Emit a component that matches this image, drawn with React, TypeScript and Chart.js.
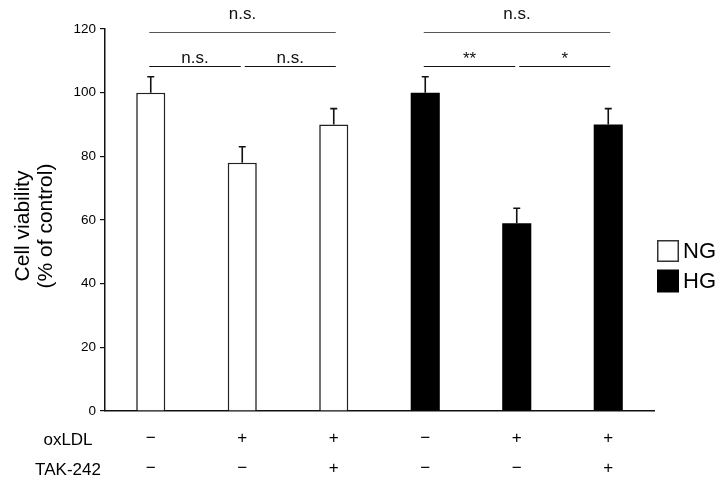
import React, { useEffect, useRef } from "react";
import { Chart, registerables } from "chart.js";

Chart.register(...registerables);

const categories = [
  "NG",
  "NG + oxLDL",
  "NG + oxLDL + TAK-242",
  "HG",
  "HG + oxLDL",
  "HG + oxLDL + TAK-242",
];
const rowNames = ["oxLDL", "TAK-242"];
const oxLDLRow = ["\u2212", "+", "+", "\u2212", "+", "+"];
const takRow = ["\u2212", "\u2212", "+", "\u2212", "\u2212", "+"];

const ngValues = [100, 78, 90, null, null, null];
const ngErrors = [5, 5, 5, null, null, null];
const hgValues = [null, null, null, 100, 59, 90];
const hgErrors = [null, null, null, 5, 4.7, 5];

const yTicks = [0, 20, 40, 60, 80, 100, 120];
const yTitle = ["Cell viability", "(% of control)"];

// significance brackets: category index pairs, label, level (value height)
const comparisons = [
  { from: 0, to: 1, label: "n.s.", level: 0 },
  { from: 1, to: 2, label: "n.s.", level: 0 },
  { from: 0, to: 2, label: "n.s.", level: 1 },
  { from: 3, to: 4, label: "**", level: 0 },
  { from: 4, to: 5, label: "*", level: 0 },
  { from: 3, to: 5, label: "n.s.", level: 1 },
];
const bracketLevels = [108.5, 119.1];

const FONT = "Arial, 'Liberation Sans', sans-serif";

const annotationPlugin = {
  id: "annotations",
  afterDatasetsDraw(chart: any) {
    const ctx = chart.ctx;
    const x = chart.scales.x;
    const y = chart.scales.y;
    const area = chart.chartArea;
    const errs = [ngErrors, hgErrors];

    ctx.save();
    // error bars
    chart.data.datasets.forEach((ds: any, di: number) => {
      const meta = chart.getDatasetMeta(di);
      meta.data.forEach((el: any, i: number) => {
        const v = ds.data[i];
        const e = errs[di][i];
        if (v == null || e == null) return;
        const top = y.getPixelForValue(v + e);
        ctx.strokeStyle = "#111";
        ctx.lineWidth = 1.6;
        ctx.beginPath();
        ctx.moveTo(el.x, el.y);
        ctx.lineTo(el.x, top);
        ctx.moveTo(el.x - 3.5, top);
        ctx.lineTo(el.x + 3.5, top);
        ctx.stroke();
      });
    });

    // brackets
    comparisons.forEach((c) => {
      const sharedFrom = comparisons.some(
        (o) => o !== c && o.level === c.level && o.to === c.from
      );
      const sharedTo = comparisons.some(
        (o) => o !== c && o.level === c.level && o.from === c.to
      );
      const x1 = x.getPixelForValue(c.from) + (sharedFrom ? 2.5 : -1.5);
      const x2 = x.getPixelForValue(c.to) + (sharedTo ? -1.5 : 2);
      const ly = Math.round(y.getPixelForValue(bracketLevels[c.level])) + 0.5;
      ctx.strokeStyle = c.level === 1 ? "#555" : "#111";
      ctx.lineWidth = 1.2;
      ctx.beginPath();
      ctx.moveTo(x1, ly);
      ctx.lineTo(x2, ly);
      ctx.stroke();
      ctx.fillStyle = "#111";
      ctx.font = `17px ${FONT}`;
      ctx.textAlign = "center";
      ctx.textBaseline = "alphabetic";
      const star = c.label.indexOf("*") >= 0;
      const off = c.level === 1 ? 14 : star ? 3 : 4;
      ctx.fillText(c.label, (x1 + x2) / 2, ly - off);
    });

    // y title
    ctx.fillStyle = "#000";
    ctx.font = `21px ${FONT}`;
    ctx.textAlign = "center";
    ctx.textBaseline = "alphabetic";
    const cy = (area.top + area.bottom) / 2 + 6;
    [29, 52].forEach((bx, i) => {
      ctx.save();
      ctx.translate(bx, cy);
      ctx.rotate(-Math.PI / 2);
      ctx.fillText(yTitle[i], 0, 0);
      ctx.restore();
    });

    // treatment rows
    const rows = [oxLDLRow, takRow];
    const labelBase = [area.bottom + 34, area.bottom + 64];
    ctx.font = `17px ${FONT}`;
    rows.forEach((row, r) => {
      ctx.textAlign = "center";
      ctx.fillText(rowNames[r], 68, labelBase[r]);
      row.forEach((s, i) => {
        ctx.fillText(s, x.getPixelForValue(i), labelBase[r] - 2);
      });
    });

    // legend
    const lx = area.right + 3;
    const items = chart.data.datasets.map((d: any) => d.label);
    const tops = [240, 269.5];
    items.forEach((name: string, i: number) => {
      const ds = chart.data.datasets[i];
      if (i === 0) {
        ctx.fillStyle = "#fff";
        ctx.fillRect(lx, tops[i], 22, 22);
        ctx.strokeStyle = "#333";
        ctx.lineWidth = 1.5;
        ctx.strokeRect(lx + 0.75, tops[i] + 0.75, 20.5, 20.5);
      } else {
        ctx.fillStyle = ds.backgroundColor;
        ctx.fillRect(lx, tops[i], 22, 23);
      }
      ctx.fillStyle = "#000";
      ctx.font = `22px ${FONT}`;
      ctx.textAlign = "left";
      ctx.textBaseline = "middle";
      ctx.fillText(name, lx + 26, tops[i] + 12);
    });
    ctx.restore();
  },
};

export default function App() {
  const ref = useRef<HTMLCanvasElement>(null);
  useEffect(() => {
    if (!ref.current) return;
    const chart = new Chart(ref.current, {
      type: "bar",
      data: {
        labels: categories,
        datasets: [
          {
            label: "NG",
            data: ngValues,
            backgroundColor: "#fff",
            borderColor: "#222",
            borderWidth: 1.6,
          },
          {
            label: "HG",
            data: hgValues,
            backgroundColor: "#000",
            borderColor: "#000",
            borderWidth: 0,
          },
        ],
      },
      options: {
        animation: false,
        responsive: true,
        maintainAspectRatio: false,
        datasets: {
          bar: {
            grouped: false,
            categoryPercentage: 1,
            barPercentage: 0.318,
          },
        },
        layout: { padding: { top: 29, right: 69, bottom: 0, left: 0 } },
        plugins: {
          legend: { display: false },
          tooltip: { enabled: false },
          title: { display: false },
        },
        scales: {
          x: {
            type: "category",
            grid: { display: false, drawTicks: false },
            border: { display: true, color: "#111", width: 1.5 },
            ticks: { display: false },
            afterFit: (s: any) => {
              s.height = 78;
            },
          },
          y: {
            min: 0,
            max: 120,
            afterBuildTicks: (s: any) => {
              s.ticks = yTicks.map((v) => ({ value: v }));
            },
            grid: {
              display: true,
              drawOnChartArea: false,
              drawTicks: true,
              tickLength: 5,
              color: "#111",
              lineWidth: 1.2,
            },
            border: { display: true, color: "#111", width: 1.5 },
            ticks: {
              color: "#000",
              font: { family: FONT, size: 13.5 },
              padding: 4,
            },
            afterFit: (s: any) => {
              s.width = 105;
            },
          },
        },
      },
      plugins: [annotationPlugin],
    });
    return () => chart.destroy();
  }, []);
  return (
    <div
      style={{
        position: "absolute",
        left: 0,
        top: 0,
        width: 723,
        height: 489,
        background: "#fff",
      }}
    >
      <canvas ref={ref} />
    </div>
  );
}
